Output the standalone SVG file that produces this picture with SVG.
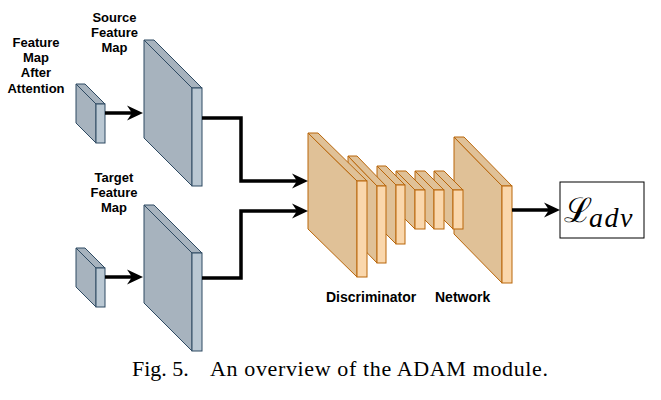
<svg xmlns="http://www.w3.org/2000/svg" width="661" height="400" viewBox="0 0 661 400">
<style>
  .lbl { font-family: "Liberation Sans", Arial, sans-serif; font-weight: bold; font-size: 13px; fill: #000; text-anchor: middle; }
  .cap { font-family: "Liberation Serif", "Times New Roman", serif; font-size: 22px; fill: #000; }
  .bside { fill: #A7B3BE; stroke: #2E4A62; stroke-width: 1; stroke-linejoin: round; }
  .bfront { fill: #BAC8D3; stroke: #2E4A62; stroke-width: 1; }
  .oside { fill: #E0C197; stroke: #B9660A; stroke-width: 1; stroke-linejoin: round; }
  .ofront { fill: #FAD7AC; stroke: #B9660A; stroke-width: 1; }
  .conn { fill: none; stroke: #000; stroke-width: 3.5; marker-end: url(#arr); }
</style>
<defs>
  <marker id="arr" markerUnits="userSpaceOnUse" markerWidth="18" markerHeight="18" refX="6" refY="8" orient="auto">
    <path d="M0,0.5 L16,8 L0,15.5 L5,8 Z" fill="#000"/>
  </marker>
</defs>
<rect width="661" height="400" fill="#fff"/>

<g id="attn-map">
  <path class="bside" d="M76,84 L96,104 L96,143 L76,123 Z"/>
  <path class="bside" d="M76,84 L85,84 L105,104 L96,104 Z"/>
  <rect class="bfront" x="96" y="104" width="9" height="39"/>
  <text class="lbl" x="36" y="46.5">Feature</text>
  <text class="lbl" x="36" y="62">Map</text>
  <text class="lbl" x="36" y="77">After</text>
  <text class="lbl" x="36" y="92.5">Attention</text>
</g>

<g id="source-map">
  <path class="bside" d="M144,40 L192,88 L192,186 L144,138 Z"/>
  <path class="bside" d="M144,40 L154,40 L202,88 L192,88 Z"/>
  <rect class="bfront" x="192" y="88" width="10" height="98"/>
  <text class="lbl" x="114.5" y="21.5">Source</text>
  <text class="lbl" x="114.5" y="37">Feature</text>
  <text class="lbl" x="114.5" y="52">Map</text>
</g>

<g id="target-small">
  <path class="bside" d="M76,248 L96,268 L96,307 L76,287 Z"/>
  <path class="bside" d="M76,248 L85,248 L105,268 L96,268 Z"/>
  <rect class="bfront" x="96" y="268" width="9" height="39"/>
</g>

<g id="target-map">
  <path class="bside" d="M144,205 L192,253 L192,351 L144,303 Z"/>
  <path class="bside" d="M144,205 L154,205 L202,253 L192,253 Z"/>
  <rect class="bfront" x="192" y="253" width="10" height="98"/>
  <text class="lbl" x="114" y="181.5">Target</text>
  <text class="lbl" x="114" y="197">Feature</text>
  <text class="lbl" x="114" y="212">Map</text>
</g>

<g id="discriminator">
  <g id="d7">
    <path class="oside" d="M454,137 L502,186 L502,283 L454,234 Z"/>
    <path class="oside" d="M454,137 L464,137 L512,186 L502,186 Z"/>
    <rect class="ofront" x="502" y="186" width="10" height="97"/>
  </g>
  <g id="d6">
    <path class="oside" d="M434,171 L453,190 L453,229 L434,210 Z"/>
    <path class="oside" d="M434,171 L444,171 L463,190 L453,190 Z"/>
    <rect class="ofront" x="453" y="190" width="10" height="39"/>
  </g>
  <g id="d5">
    <path class="oside" d="M415,171 L434,190 L434,229 L415,210 Z"/>
    <path class="oside" d="M415,171 L425,171 L444,190 L434,190 Z"/>
    <rect class="ofront" x="434" y="190" width="10" height="39"/>
  </g>
  <g id="d4">
    <path class="oside" d="M396,171 L415,190 L415,229 L396,210 Z"/>
    <path class="oside" d="M396,171 L406,171 L425,190 L415,190 Z"/>
    <rect class="ofront" x="415" y="190" width="10" height="39"/>
  </g>
  <g id="d3">
    <path class="oside" d="M377,166 L396,185 L396,244 L377,225 Z"/>
    <path class="oside" d="M377,166 L386,166 L405,185 L396,185 Z"/>
    <rect class="ofront" x="396" y="185" width="9" height="59"/>
  </g>
  <g id="d2">
    <path class="oside" d="M348,156 L377,186 L377,263 L348,233 Z"/>
    <path class="oside" d="M348,156 L357,156 L386,186 L377,186 Z"/>
    <rect class="ofront" x="377" y="186" width="9" height="77"/>
  </g>
  <g id="d1">
    <path class="oside" d="M308,133 L357,181 L357,277 L308,229 Z"/>
    <path class="oside" d="M308,133 L318,133 L367,181 L357,181 Z"/>
    <rect class="ofront" x="357" y="181" width="10" height="96"/>
  </g>
  <text class="lbl" y="302" style="text-anchor:start;font-size:14px"><tspan x="326">Discriminator</tspan><tspan x="435">Network</tspan></text>
</g>

<g id="loss">
  <rect x="560" y="182" width="84" height="56" fill="#fff" stroke="#000" stroke-width="1"/>
  <text x="564" y="222" font-family="DejaVu Serif, serif" font-size="34" fill="#000">ℒ</text>
  <text x="589" y="227" font-family="Liberation Serif, serif" font-style="italic" font-size="28" letter-spacing="1.5" fill="#000">adv</text>
</g>

<g id="connectors">
  <path class="conn" d="M105,113 L133,113"/>
  <path class="conn" d="M202,118 L241,118 L241,181 L298,181"/>
  <path class="conn" d="M105,277 L133,277"/>
  <path class="conn" d="M202,278 L241,278 L241,211 L298,211"/>
  <path class="conn" d="M512,210 L550,210"/>
</g>

<g id="caption">
  <text class="cap" x="132" y="376">Fig. 5.</text>
  <text class="cap" x="210" y="376" textLength="338" lengthAdjust="spacing">An overview of the ADAM module.</text>
</g>
</svg>
